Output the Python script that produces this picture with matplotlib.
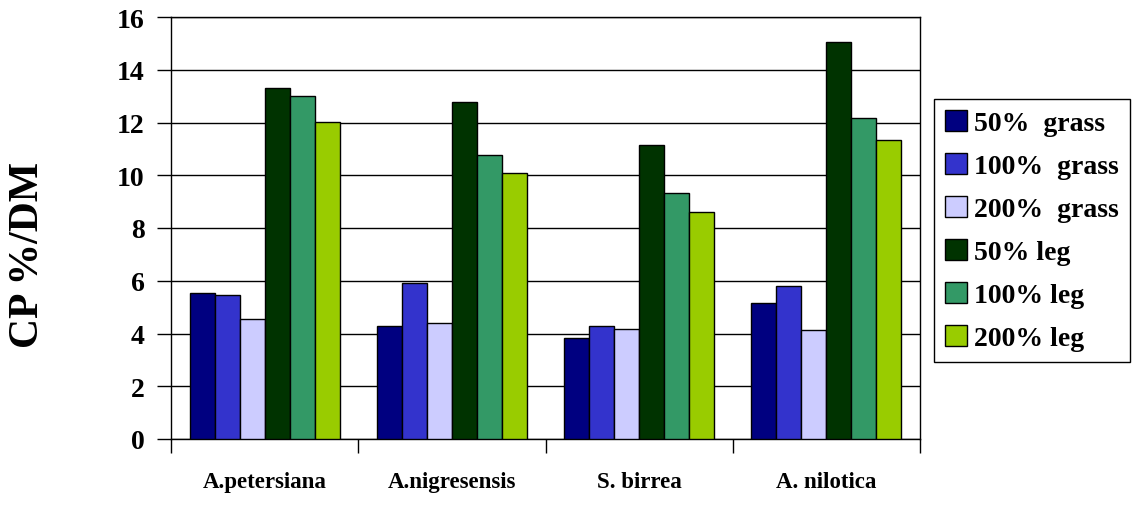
import matplotlib
matplotlib.use("Agg")
import matplotlib.pyplot as plt
import numpy as np

# data
species = ["A.petersiana", "A.nigresensis", "S. birrea", "A. nilotica"]
series_names = ["50%  grass", "100%  grass", "200%  grass", "50% leg", "100% leg", "200% leg"]
grass_50 = [5.54, 4.27, 3.82, 5.16]
grass_100 = [5.45, 5.93, 4.27, 5.79]
grass_200 = [4.56, 4.41, 4.16, 4.12]
leg_50 = [13.31, 12.77, 11.15, 15.04]
leg_100 = [13.01, 10.76, 9.33, 12.17]
leg_200 = [12.01, 10.10, 8.60, 11.33]
y_ticks = [0, 2, 4, 6, 8, 10, 12, 14, 16]

series = [grass_50, grass_100, grass_200, leg_50, leg_100, leg_200]
colors = ["#000080", "#3333CC", "#CCCCFF", "#003300", "#339966", "#99CC00"]

plt.rcParams["font.family"] = ["Liberation Serif", "DejaVu Serif"]
plt.rcParams["font.weight"] = "bold"

fig = plt.figure(figsize=(11.36, 5.06), dpi=100)
ax = fig.add_axes([171 / 1136, 66 / 506, (920 - 171) / 1136, (440 - 18) / 506])

x = np.arange(len(species)) + 0.5
w = 1 / 7.5
for i, (vals, name, col) in enumerate(zip(series, series_names, colors)):
    ax.bar(x + (i - 2.5) * w, vals, width=w, color=col, edgecolor="black",
           linewidth=1.0, label=name, zorder=3)

ax.set_xlim(0, len(species))
ax.set_ylim(0, 16)
ax.set_yticks(y_ticks)
ax.set_yticklabels([str(t) for t in y_ticks], fontsize=20, fontweight="bold")
ax.yaxis.grid(True, color="black", linewidth=1.0, zorder=0)

# category boundaries get the tick marks, labels sit at centers
ax.set_xticks(range(len(species) + 1))
ax.set_xticklabels([])
ax.set_xticks(x, minor=True)
ax.set_xticklabels(species, minor=True, fontsize=16.5, fontweight="bold")
ax.tick_params(axis="x", which="major", direction="out", length=10, width=1)
ax.tick_params(axis="x", which="minor", length=0, pad=23)
ax.tick_params(axis="y", direction="out", length=10, width=1, pad=9)

for s in ax.spines.values():
    s.set_linewidth(1.0)
    s.set_color("black")

fig.text(28 / 1136, 1 - 255 / 506, "CP %/DM", rotation=90, fontsize=30,
         fontweight="bold", ha="center", va="center")

leg = ax.legend(loc="upper left", bbox_to_anchor=(934 / 1136, 1 - 100 / 506),
                bbox_transform=fig.transFigure, borderaxespad=0, fancybox=False,
                edgecolor="black", framealpha=1, prop={"size": 20, "weight": "bold"},
                handlelength=0.8, handleheight=0.8, handletextpad=0.25,
                labelspacing=0.6, borderpad=0.4)
leg.get_frame().set_linewidth(1.0)

fig.savefig("out.png", dpi=100)
